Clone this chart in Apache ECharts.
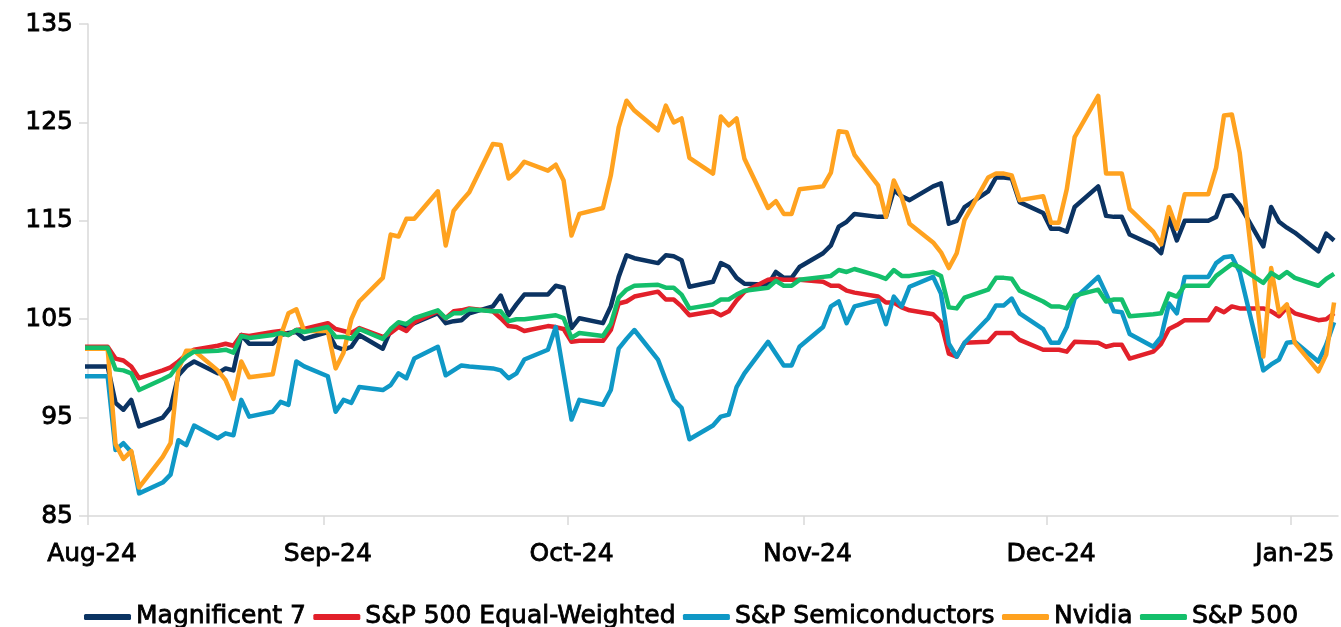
<!DOCTYPE html>
<html>
<head>
<meta charset="utf-8">
<script src="https://cdn.jsdelivr.net/npm/echarts@6/dist/echarts.min.js"></script>
<style>
  html, body { margin: 0; padding: 0; background: #fff; }
  #chart { width: 1341px; height: 627px; }
</style>
</head>
<body>
<div id="chart"></div>
<script>
// trading days: every weekday from firstDate to lastDate (holidays carry the previous close)
const firstDate = '2024-08-30';
const lastDate = '2025-02-05';
const DAY = 86400000;
const dates = [];
for (let t = Date.parse(firstDate); t <= Date.parse(lastDate); t += DAY) {
  const wd = new Date(t).getUTCDay();
  if (wd > 0 && wd < 6) dates.push(new Date(t).toISOString().slice(0, 10));
}

// axis ticks sit on month ends, labelled with that month
const monthEnds = ['2024-08-31', '2024-09-30', '2024-10-31', '2024-11-30', '2024-12-31', '2025-01-31'];
const monthLabels = ['Aug-24', 'Sep-24', 'Oct-24', 'Nov-24', 'Dec-24', 'Jan-25'];

const names = ['Magnificent 7', 'S&P 500 Equal-Weighted', 'S&P Semiconductors', 'Nvidia', 'S&P 500'];
const colors = ['#0b3362', '#e2202a', '#0f98c6', '#ffa21f', '#14bf6b'];

// one line per week (Aug 30, then Mon..Fri)
const mag7 = [
  100.2,
  100.2, 96.5, 95.8, 96.8, 94.1,
  95.0, 96.0, 99.3, 100.2, 100.7,
  99.5, 100.0, 99.8, 103.4, 102.5,
  102.5, 103.4, 103.6, 103.7, 103.0,
  103.7, 102.2, 101.9, 102.2, 103.4,
  102.0, 103.9, 104.4, 104.1, 104.6,
  105.6, 104.6, 104.8, 104.9, 105.6,
  106.3, 107.4, 105.4, 106.5, 107.5,
  107.5, 108.4, 108.2, 104.1, 105.1,
  104.6, 106.3, 109.3, 111.5, 111.2,
  110.7, 111.5, 111.4, 111.0, 108.3,
  108.8, 110.7, 110.3, 109.2, 108.6,
  108.5, 109.8, 109.2, 109.2, 110.3,
  111.7, 112.5, 114.4, 114.9, 115.7,
  115.4, 115.4, 118.1, 117.5, 117.1,
  118.5, 118.8, 114.7, 115.0, 116.4,
  118.0, 119.4, 119.4, 119.3, 116.9,
  115.8, 114.2, 114.2, 113.9, 116.4,
  118.5, 115.5, 115.4, 115.4, 113.6,
  112.5, 111.7, 115.3, 113.0, 115.0,
  115.0, 115.4, 117.5, 117.6, 116.6,
  112.4, 116.4, 114.9, 114.3, 113.8,
  111.9, 113.7, 113.0
];
const equalWeight = [
  102.2,
  102.2, 101.0, 100.8, 100.2, 99.0,
  99.8, 100.1, 100.7, 101.4, 101.9,
  102.3, 102.5, 102.3, 103.4, 103.3,
  103.7, 103.8, 103.4, 103.9, 104.0,
  104.6, 104.0, 103.8, 103.6, 104.1,
  103.2, 103.6, 104.2, 103.8, 104.7,
  105.8, 105.1, 105.8, 105.9, 106.1,
  105.8, 105.1, 104.3, 104.2, 103.8,
  104.3, 104.2, 104.0, 102.7, 102.8,
  102.8, 103.9, 106.6, 106.8, 107.3,
  107.8, 107.0, 107.0, 106.3, 105.4,
  105.8, 105.4, 105.8, 106.9, 107.8,
  109.0, 109.1, 109.0, 109.0, 109.0,
  108.8, 108.4, 108.4, 107.9, 107.7,
  107.3, 106.7, 106.7, 106.2, 105.9,
  105.5, 104.7, 101.5, 101.2, 102.6,
  102.7, 103.6, 103.6, 103.6, 102.9,
  101.9, 101.9, 101.9, 101.7, 102.7,
  102.6, 102.2, 102.4, 102.4, 101.0,
  101.7, 102.5, 104.0, 104.4, 104.9,
  104.9, 106.1, 105.7, 106.3, 106.1,
  106.1, 105.8, 105.3, 106.2, 105.6,
  104.9, 105.0, 105.6
];
const semis = [
  99.2,
  99.2, 91.7, 92.4, 91.5, 87.3,
  88.4, 89.2, 92.7, 92.2, 94.2,
  92.9, 93.4, 93.2, 96.8, 95.1,
  95.6, 96.6, 96.3, 100.7, 100.2,
  99.2, 95.6, 96.8, 96.5, 98.1,
  97.8, 98.3, 99.5, 99.0, 101.0,
  102.2, 99.3, 99.8, 100.3, 100.2,
  100.0, 99.8, 99.0, 99.5, 100.9,
  101.9, 104.2, 99.5, 94.8, 96.8,
  96.3, 97.8, 102.0, 103.0, 103.9,
  100.9, 98.8, 96.8, 96.0, 92.8,
  94.2, 95.1, 95.3, 98.1, 99.5,
  102.7, 101.5, 100.3, 100.3, 102.2,
  104.2, 106.3, 106.8, 104.6, 106.3,
  106.9, 104.5, 107.3, 106.3, 108.3,
  109.3, 107.6, 102.5, 101.2, 102.6,
  105.1, 106.4, 106.4, 107.1, 105.6,
  104.0, 102.6, 102.6, 104.2, 107.1,
  109.3, 107.6, 105.8, 105.7, 103.5,
  102.2, 103.2, 106.6, 105.6, 109.3,
  109.3, 110.7, 111.3, 111.4, 109.8,
  99.8, 100.4, 100.9, 102.6, 102.7,
  100.7, 102.4, 104.7
];
const nvidia = [
  102.0,
  102.0, 92.3, 90.8, 91.6, 87.9,
  91.0, 92.4, 99.9, 101.8, 101.8,
  99.8, 98.8, 96.9, 100.7, 99.1,
  99.4, 103.3, 105.6, 106.0, 103.8,
  103.8, 100.0, 101.6, 105.0, 106.8,
  109.2, 113.6, 113.4, 115.2, 115.2,
  118.0, 112.5, 116.0, 117.0, 117.9,
  122.8, 122.7, 119.3, 120.0, 121.0,
  120.1, 120.7, 119.1, 113.5, 115.7,
  116.3, 119.6, 124.5, 127.2, 126.2,
  124.2, 126.7, 125.0, 125.4, 121.4,
  119.8, 125.6, 124.7, 125.4, 121.3,
  116.3, 117.0, 115.7, 115.7, 118.2,
  118.5, 119.9, 124.1, 124.0, 121.7,
  118.6, 115.4, 119.1, 117.4, 114.7,
  112.8, 111.8, 110.2, 111.7, 115.1,
  119.4, 119.8, 119.8, 119.6, 117.1,
  117.5, 114.8, 114.8, 118.2, 123.5,
  127.7, 119.8, 119.8, 119.8, 116.2,
  113.9, 112.6, 116.4, 114.2, 117.7,
  117.7, 120.4, 125.7, 125.8, 121.9,
  101.2, 110.2, 105.7, 106.5, 102.6,
  99.7, 101.4, 106.7
];
const sp500 = [
  102.1,
  102.1, 99.9, 99.8, 99.5, 97.8,
  98.9, 99.3, 100.4, 101.2, 101.7,
  101.8, 101.9, 101.6, 103.3, 103.1,
  103.4, 103.6, 103.4, 103.9, 103.7,
  104.2, 103.2, 103.2, 103.0, 104.0,
  103.0, 104.0, 104.7, 104.5, 105.1,
  105.9, 105.1, 105.6, 105.6, 106.0,
  105.8, 105.8, 104.8, 105.0, 105.0,
  105.3, 105.4, 105.1, 103.1, 103.6,
  103.3, 104.5, 107.2, 108.0, 108.4,
  108.5, 108.2, 108.2, 107.5, 106.1,
  106.5, 107.0, 107.0, 107.5, 107.9,
  108.2, 108.9, 108.4, 108.4, 109.0,
  109.3, 109.4, 110.0, 109.8, 110.1,
  109.4, 109.1, 110.0, 109.4, 109.4,
  109.8, 109.4, 106.2, 106.1, 107.2,
  108.0, 109.2, 109.2, 109.1, 107.9,
  106.8, 106.3, 106.3, 106.1, 107.4,
  108.0, 106.8, 107.0, 107.0, 105.3,
  105.5, 105.6, 107.6, 107.3, 108.4,
  108.4, 109.4, 110.0, 110.6, 110.3,
  108.7, 109.7, 109.2, 109.8, 109.2,
  108.4, 109.1, 109.6
];
const seriesValues = [mag7, equalWeight, semis, nvidia, sp500];

const origin = Date.parse(monthEnds[0]);
const dayPos = d => (Date.parse(d) - origin) / DAY;
const tickPos = monthEnds.map(dayPos);

// text is a touch heavier than the regular face
const text = {
  fontFamily: 'DejaVu Sans', fontSize: 25, color: '#000',
  textBorderColor: '#000', textBorderWidth: 0.8
};

const chart = echarts.init(document.getElementById('chart'));
chart.setOption({
  animation: false,
  backgroundColor: '#fff',
  grid: { left: 88, right: 3, top: 24, bottom: 111 },
  legend: {
    left: 79,
    top: 599,
    icon: 'roundRect',
    itemWidth: 47,
    itemHeight: 6,
    itemGap: 7,
    textStyle: text,
    data: names
  },
  xAxis: {
    type: 'value',
    min: 0,
    max: dayPos(lastDate) + 1,
    splitLine: { show: false },
    axisLine: { lineStyle: { color: '#d9d9d9', width: 1.5 } },
    axisTick: { customValues: tickPos, length: 9, lineStyle: { color: '#d9d9d9', width: 1.5 } },
    axisLabel: Object.assign({
      customValues: tickPos,
      formatter: v => monthLabels[tickPos.indexOf(v)],
      margin: 26,
      padding: [0, 0, 0, 8]
    }, text)
  },
  yAxis: {
    type: 'value',
    min: 85,
    max: 135,
    interval: 10,
    splitLine: { show: false },
    axisLine: { show: true, lineStyle: { color: '#d9d9d9', width: 1.5 } },
    axisTick: { show: true, length: 9, lineStyle: { color: '#d9d9d9', width: 1.5 } },
    axisLabel: Object.assign({ margin: 15 }, text)
  },
  series: names.map((name, k) => ({
    name: name,
    type: 'line',
    symbol: 'none',
    color: colors[k],
    lineStyle: { width: 4.5, join: 'round' },
    // each date sits in the middle of its day slot
    data: dates.map((d, i) => [dayPos(d) + 0.5, seriesValues[k][i]])
  }))
});
</script>
</body>
</html>
